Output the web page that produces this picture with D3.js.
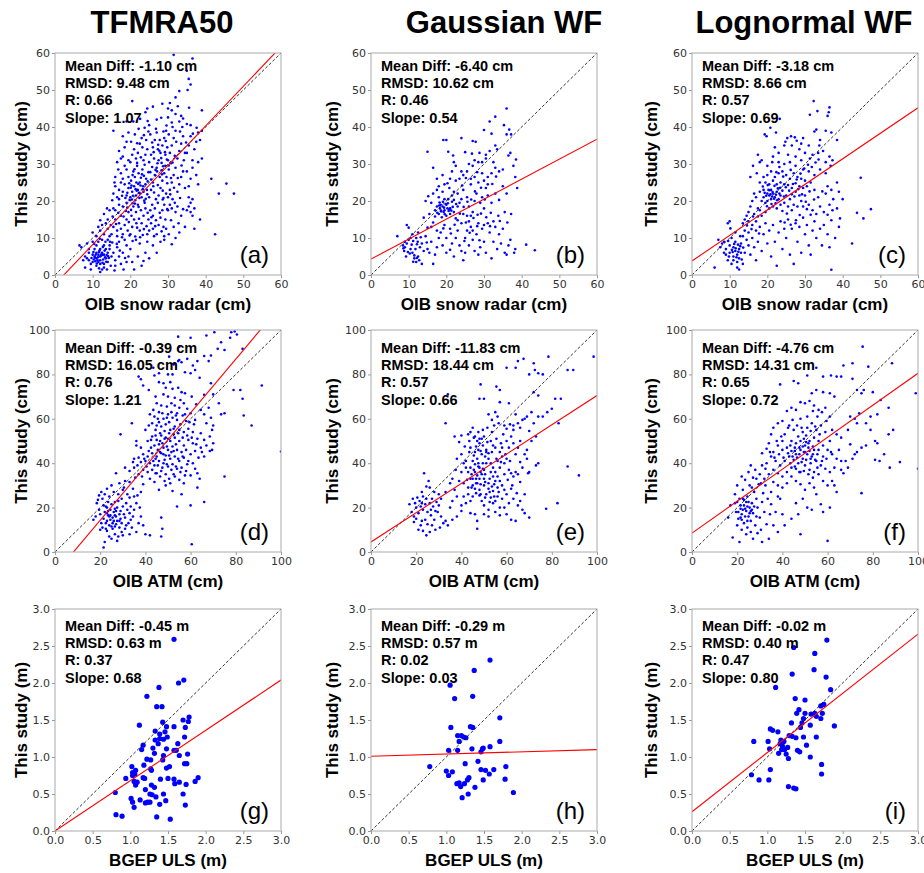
<!DOCTYPE html>
<html>
<head>
<meta charset="utf-8">
<script src="https://cdn.jsdelivr.net/npm/d3@7"></script>
<style>
  body { margin: 0; background: #fff; }
  text { font-family: "Liberation Sans", Arial, sans-serif; }
  .tick text { font-family: "DejaVu Sans", sans-serif; font-size: 11px; fill: #333; }
</style>
</head>
<body>
<script>
// column titles and per-row axis setup
var methods = ["TFMRA50", "Gaussian WF", "Lognormal WF"];
var letters = ["(a)", "(b)", "(c)", "(d)", "(e)", "(f)", "(g)", "(h)", "(i)"];
var xLabels = ["OIB snow radar (cm)", "OIB ATM (cm)", "BGEP ULS (m)"];
var yLabels = ["This study (cm)", "This study (cm)", "This study (m)"];
var axisMax = [60, 100, 3];
var ticks = [[0, 10, 20, 30, 40, 50, 60], [0, 20, 40, 60, 80, 100], [0, 0.5, 1.0, 1.5, 2.0, 2.5, 3.0]];

// statistics shown in each panel
var meanDiff = ["-1.10 cm", "-6.40 cm", "-3.18 cm", "-0.39 cm", "-11.83 cm", "-4.76 cm", "-0.45 m", "-0.29 m", "-0.02 m"];
var rmsd = ["9.48 cm", "10.62 cm", "8.66 cm", "16.05 cm", "18.44 cm", "14.31 cm", "0.63 m", "0.57 m", "0.40 m"];
var rVals = ["0.66", "0.46", "0.57", "0.76", "0.57", "0.65", "0.37", "0.02", "0.47"];
var slopes = [1.07, 0.54, 0.69, 1.21, 0.66, 0.72, 0.68, 0.03, 0.80];
var intercepts = [-2.5, 4.3, 3.8, -9.9, 4.5, 8.5, 0.0, 1.01, 0.26];

// scatter points, x,y pairs
var ptsA = [6.5,8, 7,7.5, 8,5, 8.5,4.5, 9,4, 9,6, 8,2, 9.5,3, 9,7, 7.5,4, 8.5,8.5, 9.5,1.5, 10,5.5, 10,3.5, 10,9,
  10.5,5, 11,4.5, 11,6, 11.5,3.5, 12,5, 12,4, 12.5,6, 12,7, 11,2.5, 13,3, 13,5.5, 13.5,4.5, 14,6, 14,3.5, 14.5,8, 12.5,1.5, 12,0.8, 13,2, 11,8, 10.5,7, 11.5,9, 12.5,9.5, 13,8, 14,9.5, 14.5,7, 15,5, 13.5,7, 12,3, 11.5,5.5, 10.7,3.7, 11.8,6.6, 12.8,4.2, 13.7,5.4, 14.3,4.6, 10.3,4.2, 11.3,4, 12.3,5.6, 13.2,6.6, 14.8,2.5, 13.8,1.5, 11.7,1.8, 10.8,5.5, 12.7,7.6, 14.6,9, 13.4,9, 11.9,9.8, 10.4,8.4, 10.2,6.2,
  15.5,6, 16,4, 16.5,7.5, 17,9, 17.5,3, 18,6, 19,8, 19.5,5, 16,2.5, 18.5,9.5, 15.2,8.8, 17,5, 19,3.5, 15.8,1.2, 18.2,1.5,
  21,1.5, 23,2.5, 20.5,3.5, 22,5, 24,6, 25,4.5, 26,8, 27,6, 28,9, 29,9.5, 22.5,8.5, 21.5,9.5, 24.5,9, 20,7, 23.5,3.8, 31,8.3, 32,10,
  11,10.5, 12,12, 13,11, 13.5,14, 14,12.5, 14.5,10.5, 12.5,13.5, 14,15, 13,16.5, 14.5,17.5, 11.5,13, 10,11.5, 12,14.8, 14.8,13.5, 13.8,18,
  15,11, 15.5,13, 16,15, 16.5,12, 17,14, 17.5,16, 18,11, 18.5,13.5, 19,15, 19.5,17, 16,17.5, 17,19, 18,18.5, 19,19.5, 15.5,18, 16.5,10.5, 17.5,12.5, 18.2,15.8, 19.3,12, 19.8,10.7, 15.3,15.8, 16.8,16.8, 18.8,17.3, 17.8,10.2, 16.2,13.8, 19.6,14.3,
  20,11, 20.5,13, 21,15, 21.5,17, 22,19, 22.5,12, 23,14, 23.5,16, 24,18, 24.5,11, 20.8,18.5, 21.8,12.8, 22.8,17.5, 23.8,19.5, 24.8,15, 20.3,16, 21.3,10.4, 22.3,15.2, 23.3,10.8, 24.3,13.2, 20.6,19.4, 21.6,14, 22.6,10.2, 23.6,12.4, 24.6,16.8,
  25,12, 25.5,14, 26,16, 26.5,18, 27,11, 27.5,13.5, 28,15.5, 28.5,17.5, 29,19, 29.5,12.5, 25.3,17.5, 26.3,10.5, 27.3,19.5, 28.3,11.8, 29.3,15, 25.8,19, 26.8,14.8, 27.8,16.8, 28.8,13, 29.8,17.8, 26,12.5, 29,10.5,
  30,17.5, 30.5,19, 31,18, 31.5,13, 32,17, 32.5,18.5, 33,11.5, 33.5,16, 30.2,11, 34,17.8, 31.8,19.5, 34.5,13, 30.8,14.8, 32.8,14,
  35,17.5, 35.5,18.5, 36,17, 36.5,16, 37,18, 37,12.5, 38,24.5, 38.5,15, 36,19.5, 35.5,21, 36.5,20.5,
  41.5,26, 45.5,24.7, 47.5,22, 43.5,22, 42.5,11,
  15.5,22, 16,24, 16.5,21, 17,23, 17.5,25, 18,22.5, 18.5,24.5, 19,21.5, 19.5,23.5, 17.5,27.5, 18,26, 19,28.5, 16,26.5, 18.5,29.5, 19.5,26.5, 17,20.5, 19.8,20.3, 15.2,20.2, 16.8,28.5, 15.8,25,
  20,21, 20.5,22.5, 21,24, 21.5,21.5, 22,23, 22.5,25, 23,21, 23.5,22.5, 24,24.5, 24.5,21.8, 20.2,25.5, 21.2,26.5, 22.2,27.5, 23.2,28.5, 24.2,26, 20.8,28, 21.8,29.5, 22.8,26.3, 23.8,29.8, 24.8,27.8, 20.4,20.4, 21.4,23.2, 22.4,20.8, 23.4,24, 24.4,23, 20.6,27, 21.6,25, 22.6,22, 23.6,26.8, 24.6,25.3, 20.1,23.6, 22.1,24.6, 24.1,20.6, 21.1,28.6, 23.1,27.2,
  25,21, 25.5,23, 26,25, 26.5,27, 27,29, 27.5,21.5, 28,23.5, 28.5,25.5, 29,27.5, 29.5,22, 25.3,27.8, 26.3,22.3, 27.3,24.3, 28.3,28.3, 29.3,29.5, 25.8,29.2, 26.8,20.5, 27.8,26.5, 28.8,20.8, 29.8,24.8, 25.5,25.8, 26.1,24, 28.6,22.8, 27.1,28, 29.6,26.5,
  30,21, 30.5,23, 31,25, 31.5,27, 32,29, 32.5,22.5, 33,24.5, 33.5,26.5, 30.2,28.5, 34,28, 34.5,23.5, 31.2,20.5, 33.2,20.8, 30.8,26.2,
  35,28, 36,26, 37.5,27, 38,30.5, 35.5,24, 36.5,29, 39,31.5,
  15.5,39, 17,33.5, 17.5,31.5, 18,32, 18.5,34.5, 19,36, 19.5,31, 16.5,30.5, 18,37.5, 19.5,38.5,
  20,30.5, 20.5,32.5, 21,34, 21.5,31.5, 22,33, 22.5,35.5, 23,37, 23.5,31, 24,32.5, 24.5,34, 20.2,36, 21.2,38, 22.2,39.5, 23.2,34.5, 24.2,36.5, 20.8,41.5, 24.8,38.8, 21.8,30.3, 23.8,39.8, 22.8,31.8, 19,41.5,
  25,30.5, 25.5,32.5, 26,34.5, 26.5,36.5, 27,38.5, 27.5,31, 28,33, 28.5,35, 29,37, 29.5,39, 25.3,38, 26.3,31.5, 27.3,34, 28.3,30.3, 29.3,32.5, 25.8,35.8, 26.8,39.5, 27.8,36.5, 28.8,38.8, 29.8,34.5, 28.2,42.5, 27,42, 26,45.5,
  30,31, 30.5,33, 31,35, 31.5,37, 32,39, 32.5,31.5, 33,33.5, 33.5,35.5, 34,37.5, 34.5,33, 30.2,38, 31.2,40, 32.2,36, 33.2,38.8, 34.2,31, 30.8,30.2, 31.8,32.2, 33.8,40,
  35,33, 35.5,35, 36,37.5, 36.5,31, 37,34, 37.5,36, 38,38.5, 38.5,36.5, 39,39, 36,40.5, 34.8,35.8,
  31.5,59.5, 36.5,58.5, 35,55.2, 35.5,53, 36,51.5, 35.2,50, 33,49.7, 32,48, 30.5,46.5, 28.5,46.3, 20.5,47, 24.5,45, 24,44, 30,45, 31,44.5, 33.5,43, 32,43.5, 34,42.3, 39,44.5, 25,40.5, 33,41.5, 30,42.6, 31,41.2, 35,40.8,
  19.2,22.2, 20.3,24.2, 21.3,20.2, 22.3,22.2, 23.3,23.2, 20.7,21.4, 21.7,22.8, 22.7,24.2, 19.7,24.8, 18.7,20.8, 23.7,20.1, 21.2,19.3, 22.2,18.4, 20.2,17.6, 19.2,18.2, 17.8,21.4, 27.2,30.2, 28.2,31.6, 29.2,33.2, 28.7,29.4, 27.7,33.6, 29.7,31.2, 26.7,28.4, 30.2,29.6, 31.2,30.4, 29.4,36.2, 27.4,35.2, 26.2,33.2, 28.4,27.2, 12.2,5.2, 11.4,4.8, 12.8,5.4, 13.3,4.8, 11.7,6.2, 10.6,4.7, 13.6,3.6, 12.6,3.3, 9.7,4.6, 11.1,3.1, 14.1,5.1, 16.4,8.4, 17.2,6.6, 18.6,4.6, 20.6,9.2, 25.6,15.6, 26.6,13.2, 28.6,20.4, 30.6,21.8, 31.6,23.6, 32.6,26.2, 33.6,29.6, 21.8,35.6, 23.6,37.8, 24.6,41.6, 22.6,42.2, 29.6,40.4, 32.6,45.6, 35.6,45.2, 36.6,38.2, 37.6,39.8];

var ptsB = [36,45, 33,42.8, 31.5,41.5, 35.3,40.5, 30,39.2, 36.7,39.3, 37.2,38, 36,38, 32,38.2, 24,37, 19.2,36.5, 20,36.5, 27,36.2, 27.8,36, 20.5,33.3, 15,33.3, 33,35, 31.5,33.5, 30.5,32.5, 29.5,30.5, 30.5,31.5, 33.5,34, 37,33, 38.5,31.2, 36.5,32.3, 37.8,29.5, 38.3,26.5, 38.8,23.5, 35,28.5, 34,28, 33,29, 32.5,30.5, 32,27.5, 31,26.5, 30,25.5, 29.5,27.5, 28.5,30.5, 27.5,31, 27,29.5, 26,30, 25.5,28, 26.5,26, 27.5,26.5, 28.5,25, 24,28, 23.5,26, 24.5,27, 22.5,29.5, 21.5,28, 21,26, 22.5,25.5, 20.3,24.8, 19.5,24.5, 20.8,23.5, 18,24, 17.5,23, 16.5,29, 22,30.5, 21.8,32.3, 25,33.2, 26.8,32.8, 28.8,33, 17.5,26, 19,27,
  15.2,21.3, 16,19.5, 17,17.5, 17.5,18.5, 18,16.5, 18.5,19, 19,18.5, 19.5,17.5, 20,19, 20.5,20.5, 21,18, 21.5,21.5, 22,22.5, 18,21, 19,22.5, 20,16, 21,16.5, 22,17, 23,18.5, 24,20.5, 23,22, 24.5,23, 25.5,21, 26,18.5, 27,17, 27.5,20, 28,22, 29,19.5, 29.5,21, 30,18, 31,21.5, 32,19.5, 33,22, 34,20.3, 35,24, 36,22, 30.5,23.5, 26.5,24.5, 24.5,16.5, 25.5,16, 26.5,16, 22.5,15.3, 17,15.8, 15.5,16.5, 14,15.5, 14.5,20, 16.5,22, 19.5,20.5, 21.5,19.8, 23.5,19.5, 18.8,15.6, 28.3,16.3, 31.8,16.8, 33.8,16, 35.5,17, 37.2,16.5, 31,24.5, 22,20.3,
  18.3,18, 19.3,17, 20.3,18, 18.6,17.2, 19.8,19.2, 20.6,17.3, 21.3,17.4, 18.2,19.6,
  7,10.5, 8.5,8, 9,7.5, 9.5,8.5, 8.8,6.5, 9.5,13.5, 10,12.8, 10,9.5, 10.5,7, 11,6, 11.5,4.5, 12,3.5, 11.5,5.3, 12.5,5, 12.8,4, 11.8,7, 12,10, 12.5,11.5, 11,11, 10.5,10, 9.3,5, 10.3,5.8, 13,7.5, 13.5,3, 13.5,8.5, 14,6.5, 14.5,10.5, 15,7, 15.5,6, 16,9, 16.5,3, 17,5.5, 17.5,12, 15,12.8, 16,13, 16.5,14.2, 17.5,7.5, 18,10, 18.5,11.5, 19,8, 19.5,13.5, 20,10, 20,6, 21,12.5, 21.5,8.5, 22,5, 22.5,10, 23,12, 23.5,8, 24,14, 24.5,4, 24,6.5, 25,10, 25.5,12, 26,8, 26.5,13, 27,9.5, 27.5,6.5, 28,11, 28.5,14, 29,7.5, 29.5,12.5, 30,9, 30.5,6, 31,14, 31.5,11.5, 32,4.5, 32.5,9, 33,13, 33.5,7, 34,11, 34.5,8.5, 35,12.5, 35.5,6, 36,5.5, 36.5,8, 37,9.5, 38,6, 38.3,7, 41.2,8.2, 43.5,6.7, 26,14.5, 23,14.8, 27,12, 30,13.5, 32.5,14.5, 25,6, 28.5,5.5, 21,6.8,
  9,9, 8.6,7.2, 10.8,8.2, 11.2,3.6, 12.2,4.6, 9.8,6.2, 12.4,9,
  18.6,17.4, 19.4,18.2, 20.4,19.4, 19.1,19.8, 18.1,18.8, 20.8,17.8, 21.7,18.4, 17.6,16.8, 22.6,19.2, 19.6,16.4, 23.6,16.6, 24.6,18.4, 25.6,19.8, 26.6,20.4, 27.6,22.6, 24.2,24.2, 25.2,26.2, 28.2,27.8, 29.2,23.6, 30.2,20.4, 32.2,24.6, 33.2,26.6, 26.2,11.4, 27.2,15.4, 28.2,13.2, 29.2,16.6, 25.2,14.2, 22.2,13.6, 21.2,11.2, 19.2,12.6, 30.6,15.6, 31.6,13.2, 34.2,14.6, 36.2,14.2, 28.8,9.4, 24.8,9.2, 12.2,8.3, 13.2,10.2, 11.2,9.2, 14.8,8.8];

var ptsC = [32.3,47, 36.5,45.3, 36.3,44, 33.3,44.3, 36,43, 31.3,43.3, 23.3,42.2, 20.8,39.8, 22.3,38.5, 19.8,37.5, 19.3,38, 25.3,37, 26.3,37.5, 27.3,37.2, 24.8,36, 27.8,36.3, 29.5,37, 32.5,38.8, 33,39.3, 34,36.5, 35.5,39, 37,38.5, 38.5,36.5, 33.8,35, 31,35, 29,35.5, 28.5,34, 26.5,35, 24.5,35, 22,34.5, 30,33, 32,32.5, 33.5,33, 34.8,33.5, 36.5,32, 35.5,30.5, 36.8,29.5, 37.3,31, 31.3,31.5, 29,31, 27.5,32, 25.5,32.5, 23,33, 21.5,32, 17.5,32.5, 18.5,31, 18,30.5, 20,29.5, 21.3,30.5, 23,30.5, 24.5,30, 26,30.5, 27.5,29.5, 29.5,28.5, 31,28, 16.2,29.5, 15.5,26.5, 17.2,27.5, 32.5,27, 34,28.5, 35.5,27.5, 38.5,25, 39,22.5, 40,20.5,
  19,26.5, 20,27, 21,28, 22,26.5, 23,27.5, 24,28, 25,27, 26,26, 27,27.5, 28,26.5, 29,26, 30,25.5, 18,25, 19.5,25, 20.5,24.5, 21.5,25.5, 22.5,24.5, 23.5,25, 24.5,24.5, 25.5,24.3, 26.5,23.5, 27.5,24.8, 28.5,24, 29.5,23.5, 30.5,24, 31.5,25, 18,22.5, 19,23, 20,22, 20.5,21.5, 21,23, 21.5,22, 22,21, 22.5,22.5, 23,20.5, 23.5,21.5, 24,22.8, 21,20.5, 20,20, 19.5,19.5, 19,21, 18.5,20, 17,21, 16.5,22, 16,20, 15.5,18.5, 17.5,18, 18,17.5, 16.5,16.5, 15,17, 14.5,16, 14,15, 13.5,14, 15,14.5, 16,13.5, 17,14.5, 17.5,15.8, 18.5,16, 19.5,17, 20.5,18, 21.5,18.5, 22.5,18, 23.5,19, 24.5,19.5, 25.5,18.5, 26,20.5, 27,19, 28,18.5, 29,20, 30,21.5, 31,19, 32,17.5, 33,16.5, 31.5,16.3, 30.5,17.8, 29.5,18.5, 26.5,17.5, 25,21.5, 26.5,21.8, 27.5,22.5, 28.5,21.5, 24,17.3, 34,18.5, 35,17, 36,16.3, 37.3,17.5, 36.5,19, 37.5,20.5, 38.5,18, 35.5,22, 33.5,21, 32.5,23, 36,24, 37,23, 43.8,16.8, 45.5,15.3, 47.5,17.8, 44.8,26.3, 42.5,8.5, 39.3,15.3, 39,13, 37,1.4,
  20.8,21.8, 21.8,20.6, 22.3,21.7, 20.3,23, 21.3,21.2, 22.8,23.4, 19.7,21.4, 23.2,22,
  6,2, 7,9.5, 7.5,7.5, 8,8.5, 8.5,6, 8.5,9, 9,5.5, 9,7, 9.5,4, 9.5,14, 10,14.5, 10,8, 10,6, 10.5,3, 10.5,10, 11,7.5, 11,5, 11,4, 11.5,9, 11.5,6.5, 12,5.5, 12,3.5, 12,2, 12.5,7, 12.5,1.5, 12.5,4.5, 13,6, 13,8.5, 13.5,10.5, 13.5,3, 14,12, 14,6, 14.5,9.5, 15,8, 15,11.5, 15.5,5.5, 16,10, 16.5,7.5, 17,12, 17,4, 17.5,9, 18,13, 18.5,6.5, 19,11, 19.5,14, 20,8.5, 20.5,12, 21,5, 21.5,13.5, 22,9, 22.5,2.5, 23,11.5, 23.5,14.5, 24,7, 24.5,12.5, 25,10, 25.5,15, 26,5.5, 26.5,12.5, 27,3, 27.5,14, 28,9, 28.5,13, 29,6, 29.5,15.5, 30,11, 30.5,13.5, 31,8, 31.5,5.5, 32,12, 32.5,14.5, 33,10, 34,12.5, 35,13.5, 36,11, 36.5,7.5, 37,14.8, 38,10, 34.5,8, 11.5,11.5, 10.2,12.6, 12.8,10.5,
  10.8,6.2, 11.8,4.8, 12.3,6.3, 9.8,5, 11.2,8.4, 13.2,4.2,
  21.4,22.4, 20.6,22.9, 22.6,20.2, 23.4,23.6, 21.9,24.1, 20.1,24.3, 19.3,22.2, 18.8,23.9, 24.4,21.2, 24.9,23.7, 22.2,19.4, 21.1,19.2, 19.9,18.6, 25.8,22.8, 26.8,24.6, 27.8,25.8, 28.8,27.4, 29.8,28.8, 30.8,29.8, 31.8,29.2, 32.8,30.4, 33.6,31.2, 26.2,28.4, 24.2,26.6, 23.2,29.2, 22.4,27.8, 27.2,21.2, 28.2,23.2, 29.2,21.8, 31.2,22.6, 30.2,19.8, 32.4,20.4, 34.6,22.6, 28.6,16.2, 27.6,14.8, 25.2,16.6, 26.2,13.6, 24.6,14.2, 12.2,8.2, 11.6,7.2, 10.6,6.8, 12.8,7.8, 9.6,9.2, 13.6,7.4, 14.6,13.4, 16.2,15.8, 15.8,12.4, 17.8,11.2];

var ptsD = [70.5,99, 78,99, 79.5,99.3, 80.5,98, 77.5,96.5, 67,97.5, 54.5,97, 60,96.5, 55,92.5, 73.5,94.5, 83,91.5, 72,91.5, 75,91, 66,88.3, 69,88.5, 58.5,87, 55,86.5, 56,85.5, 54.5,86, 50.5,88, 52.5,84.5, 63,86, 61,84, 68,86, 62,82, 57.5,81, 60,80.5, 46,80.5, 50,80, 52,80, 44,79.5, 37,79, 39,75, 38,77.8, 51,76.5, 48,76, 49,74, 52,73.5, 54.5,74, 56,72, 57.5,71.5, 60.5,70, 66,70.8, 70,71, 72.5,67, 73.5,62, 75,62.5, 79,73, 82,73, 91.5,75, 83,69, 83.5,61.5, 87,57, 100,45.3, 75,34, 69,76, 64,78.5, 41.5,73, 44.5,70, 45,67, 47,66, 49.5,65.5, 51.5,67, 53,66, 55,65, 57,67, 62.5,66.5, 64.5,64, 68,65, 66,62, 69,60.5, 67,58, 70,57, 69.5,55, 68.5,52, 70,49, 69.5,46, 68.5,45.5, 67,48, 66,50.5, 64.5,53.5, 65,45, 63.5,42.5, 66,43,
  60,62.5, 58,59, 56.5,61.5, 54,62.5, 52,60.5, 50,62, 48,60, 46,63, 44,61, 43,58, 45,57, 47,56.5, 49,57.5, 51,55, 53,56.5, 55,55, 57,54, 59,55.5, 61,54, 63,51, 61,49, 59,50.5, 57,48, 55,50, 53,51.5, 51,50, 49,51.5, 47,52.5, 45,50.5, 43,52, 41,50, 44,48, 46,48.5, 48,47, 50,46, 52,47.5, 54,46, 56,45, 58,46, 60,44, 62,45.5, 61,40, 59,41, 57,42.5, 55,41, 53,43, 51,42, 49,43.5, 47,44.5, 45,43, 43,44.5, 41,43, 39,44, 37,42.5, 35,42, 38,40.5, 40,41, 42,40, 44,39, 46,41, 48,40, 50,38.5, 52,39.5, 54,37.5, 56,38, 58,36.5, 60,34.5, 62,37.5, 64,33, 63,29, 55,32.5, 53,34, 51,31, 49,35, 47,36.5, 45,35.5, 43,37, 41,36, 39,37, 37,35, 35,38, 33,36.5, 31,38, 35.5,33.5, 33,31.5, 34.5,28.5, 31,32, 30.5,29, 27,35.5, 29,53, 34,58, 36,50, 38,47, 36,48, 40,55, 42,62, 46,76.5, 43.5,83, 56,26, 54,20.5, 57,31, 60,21, 66,22.5, 63,35.5, 47,15.5, 47.5,10.5, 47,7, 42,7.5, 60.5,3.5, 52,27.5, 49,30, 46,28, 44,31.5, 42,33, 39,30.5, 38,27, 36.5,25.5, 33,24.5,
  45.5,46, 47.5,49, 49.5,47.5, 51.5,45, 46.5,53.5, 48.5,54.5, 50.5,58.5, 52.5,53, 44.5,55, 42.5,47, 50,51, 48,44, 54,59.5, 53.5,48.5, 46,58.5,
  17,14.5, 18,16, 18.5,22, 19,23.5, 19.5,19, 20,17, 20.5,13, 21,11, 21.5,15, 22,18, 22.5,20.5, 23,9.5, 23,14, 23.5,16.5, 24,12, 24.5,19, 25,21.5, 25.5,10.5, 26,14, 26,18, 26.5,8, 27,12.5, 27,16, 27.5,20, 28,23, 28.5,11, 29,15, 29,18.5, 29.5,13, 30,20.5, 30.5,17, 31,10.5, 31,15.5, 31.5,22, 32,19, 32.5,13, 33,17.5, 33.5,20.5, 34,11, 34.5,16, 35,19, 30,7.5, 28,7, 25,6, 22,4.5, 21.5,2, 24,7, 27.5,5, 33,8, 36,9, 37,13, 38,16, 39,12, 40,8, 37.5,20, 36,22, 35,25, 32,26, 30,28, 28,26, 26,27, 24,25, 22,26, 23,28.5, 21,24, 20.5,27, 19.5,25.5, 28.5,31, 25,30, 23.5,22.5, 21.5,21, 26.5,22.5, 29.5,24, 22.5,10.5, 24.5,14.5, 26.5,16.5, 20,10, 25,11.5, 33.5,14.5, 31.5,12, 29.5,9,
  22.5,13, 23.5,18.5, 24.5,16.5, 25.5,13, 26.5,19.5, 27.5,14, 28.5,17, 23,20,
  44.5,42, 46.5,45, 48.5,41.5, 50.5,43.5, 52.5,45.5, 45.5,39, 47.5,38, 49.5,39.5, 51.5,37, 43.5,41, 41.5,45.5, 39.5,42, 42.5,50.5, 44.5,52.5, 46.5,50, 48.5,51, 50.5,53.5, 52.5,55.5, 54.5,53.5, 56.5,51.5, 55.5,57.5, 53.5,61.5, 51.5,63, 49.5,60.5, 47.5,62.5, 45.5,60, 43.5,64, 41.5,57, 57.5,62, 59.5,58.5, 61.5,57.5, 58.5,52.5, 60.5,51.5, 62.5,48.5, 64.5,47, 56.5,43, 54.5,42, 58.5,39.5, 57.5,34.5, 55.5,36, 53.5,38.5, 52.5,35, 50.5,33, 48.5,32, 46.5,34, 44.5,35.5, 40.5,38.5, 38.5,34, 36.5,39, 34.5,40.5, 50,70, 53,69.5, 48,71, 55.5,68.5, 58.5,64.5, 62,59.5, 26.5,11.5, 24,16, 27,18.5, 23,17.5, 25.5,15.5, 28.5,14];

var ptsE = [98.5,88, 78.5,88, 67.5,87, 65,86, 72,85, 60,83, 64,83, 72.5,82, 74,80.5, 76,80, 87,82, 89.5,82, 70,80, 48.5,75.5, 55.5,74.5, 57,73, 72,72, 74,70.5, 81.5,69, 84,69, 48,69, 50,69, 57,67.5, 61,67, 52,62, 55,63, 56,61, 53.5,59.5, 59,57, 60,55.5, 61.5,57.5, 63,57, 64,62, 65,58, 66,56, 67,59.5, 68,60, 69,61, 71,63, 72,58, 74,61, 76,61, 78,63, 80,64.5, 83,58, 70,54.5, 73,52, 71,50, 68,44, 69,42, 66,40.5, 70,36, 69.5,35.5, 74,40, 73,39, 87,38.5, 92,34.5, 82.5,22, 77.5,19.5, 34,71, 33,58,
  39,49.5, 37,52, 40,52.5, 43,53, 44,54, 45,56, 46,52, 47,50, 48,49, 49,51, 50,52, 51,46, 52,44.5, 53,50, 54,48, 55,47, 57,45, 58,43, 59,40, 60,42, 61,37, 62,35.5, 63,34, 64,36, 65,35, 66,31.5, 62,28.5, 60,26, 58,24, 59,20, 60,17, 62,14.5, 64,14, 65,21, 67,19, 68,17.5, 70,15.5, 61,22, 56,25, 54,22, 55,18, 57,16.5, 52,19, 50,21, 48,25.5, 46,17, 44,17.5, 47,10.5, 43,26, 41,25, 40,21, 38,16, 36,14.5, 34,12, 33,14, 32,13, 37,28, 36,33, 37.5,37, 38,42, 40,44, 41,40, 42,38, 43,36, 44,33, 45,30, 46,28.5, 47,31, 48,33, 49,35, 50,37, 51,40, 52,42, 53,40, 54,38, 55,36, 56,34, 57,32, 58,30, 59,28, 56,29, 54,27.5, 52,28.5, 50,30, 48,28, 46,36, 44,38, 42,41, 40,36, 39,32, 41,31, 43,29, 45,41, 47,42, 49,44, 51,45, 53,36, 55,32, 57,38, 59,35, 61,47, 63,49, 65,47, 66,50, 64,44, 67,38, 69,46, 46,45, 44,47, 48,38, 50,33, 52,31, 54,34, 56,41, 58,47, 60,50, 62,52, 63,55, 44,23, 42,22, 40,18.5, 35,20, 36,23, 38,25, 30,26, 31,24, 33,27, 35,31, 45,25, 49,23, 51,26, 53,24.5, 55,23, 50,17, 52,16, 47,14, 57,20, 63,24, 66,23, 68,26,
  45.5,37, 46.5,33, 47.5,38.5, 48.5,36, 49.5,40, 46,39.5, 47,34.5, 50.5,35, 52.5,27, 53.5,29.5, 45,33, 48,51, 47.5,46, 49.5,48,
  17,21.5, 18,18, 18.5,24, 19,16, 19.5,22, 20,20, 20.5,24.5, 21,17.5, 21.5,23, 22,20.5, 22.5,14, 23,19, 23.5,35.5, 23,25, 24,21.5, 24.5,29.5, 25,18, 25.5,32, 25,12.5, 26,22, 26,9, 24.5,7.5, 23,9.5, 27,24, 27.5,20.5, 28,14.5, 28.5,10, 29,22.5, 29.5,18, 28,27, 30,21, 30.5,11, 31,16, 27,12, 26.5,16.5, 24,14.5, 22,12, 21,10, 19,13.5, 20,15, 22.5,27, 26,29,
  44.5,35, 46.5,31, 48.5,30.5, 50.5,31.5, 52.5,33, 54.5,30.5, 56.5,27, 44.5,29, 42.5,32.5, 46.5,26.5, 48.5,26, 50.5,24.5, 52.5,22.5, 54.5,25, 46.5,47.5, 48.5,45.5, 50.5,43, 47.5,40, 49.5,37.5, 45.5,43.5, 43.5,45, 41.5,47.5, 43.5,50, 45.5,51.5, 47.5,54, 49.5,55, 51.5,56, 53.5,54, 55.5,51, 57.5,49, 58.5,53, 56.5,58, 54.5,57, 51.5,49.5, 53.5,45, 55.5,42, 57.5,40.5, 59.5,44, 61.5,41, 60.5,32.5, 62.5,30, 64.5,26.5, 26.5,19, 22.5,22, 24.5,24, 28.5,18.5];

var ptsF = [75.5,92.5, 88.5,85, 71,85, 67,84, 78,83.5, 55,83, 51,79.5, 58,79, 61.5,79.5, 64,79, 66,79, 71,78, 39,75.5, 45,77, 47,76, 53,71.5, 55,73, 58,72, 61,71.5, 63,70, 73,73, 75,71.5, 76,73, 80,72, 99,71.5, 83.5,68.5, 87,65, 82,62, 79,61, 74,62.5, 70,61, 72,60, 69,55, 73,58, 77,58, 79,55, 89,55, 81,50, 87,53, 82,49, 85,44, 92,40.5, 87.5,38, 81,41.5, 83,41, 77,48, 75,47, 72,44, 71,42, 68,41, 67,35.5, 66,41, 75,26.5, 100,37.5, 60,5, 48,8,
  73,45, 70,48.5, 64,53, 66,51.5, 62,55, 61,61, 59,65, 56,64, 54,66, 52,68, 50,67, 48,67.5, 46,64, 44,65, 42,63.5, 40,59, 38,58, 36,56, 35,53, 34,49, 38,48, 40,46, 42,47, 44,45.5, 46,44, 48,46, 50,48, 52,50, 54,51.5, 56,50, 58,48, 60,46, 62,44, 64,42, 63,38, 61,36, 59,37.5, 57,39, 55,41, 53,43, 51,44, 49,42, 47,40, 45,41.5, 43,43, 41,41, 39,39, 37,41, 35,43, 33,40, 31,39, 30,35, 32,33, 34,35, 36,37, 38,35.5, 40,34, 42,36, 44,38, 46,37.5, 48,36, 50,39, 52,37, 54,36, 56,35, 58,32, 60,30, 62,32, 64,27, 61,20, 58,18, 57,21.5, 55,26, 54,29, 52,31, 50,28, 48,30.5, 46,32, 44,34, 42,31, 40,29, 38,30, 36,31.5, 35,27, 46,22, 49,24, 51,20, 53,19, 47,17, 44,15, 41,12, 40,17, 38,25, 51,56, 53,58, 55,55, 57,57, 59,54, 61,50, 47,52, 45,55, 43,57, 41,53, 49,54, 51,61, 48,60, 46,49, 50,45, 52,45.5, 54,46, 56,46, 58,43, 48,50, 44,50, 40,50, 36,45, 33,46.5, 31,44.5, 66,37, 63,30, 69,38, 65,46,
  49,47.5, 50.5,49.5, 51.5,47, 47.5,44, 45.5,47, 52.5,42, 53.5,47.5, 49.5,51, 43.5,48, 55.5,44,
  16,15.5, 17,21, 18,6.5, 19,26, 19.5,18, 20,22.5, 20.5,15, 21,24, 21.5,19.5, 22,17, 22.5,28, 23,13, 23,21, 23.5,32.5, 24,18.5, 24.5,11, 24.5,25, 25,16, 25.5,20, 25.5,30, 26,9, 26,14, 26.5,22, 27,17.5, 27.5,27, 28,12, 28.5,24, 29,20, 29.5,30.5, 30,15.5, 30.5,10, 31,22.5, 31.5,26.5, 32,18, 32.5,30, 33,12.5, 33.5,24, 34,6, 34.5,17, 35,21.5, 36,12, 37,18, 38,9, 39,24, 21,4.5, 22,10, 20,12, 24,8, 27,6, 29,8.5, 31,4.5, 22,34, 20,30, 25,36, 28,37, 27,33.5, 26,39,
  22.5,19, 23.5,16, 24.5,20.5, 25.5,17.5, 23,23.5, 26.5,19, 21.5,15.5,
  45.5,45.5, 47.5,47, 49.5,45, 51.5,49, 53.5,44, 46.5,42.5, 48.5,40.5, 50.5,41.5, 52.5,40, 54.5,41.5, 44.5,43, 42.5,44.5, 40.5,42.5, 38.5,44, 36.5,42.5, 43.5,40, 45.5,38.5, 47.5,36, 49.5,36.5, 51.5,35, 53.5,33.5, 55.5,38, 57.5,41, 59.5,42, 61.5,45, 56.5,53, 54.5,56.5, 52.5,54.5, 50.5,52.5, 48.5,56, 46.5,57, 44.5,59.5, 42.5,56, 55.5,61, 57.5,63, 53.5,63.5, 59.5,59, 39.5,52, 37.5,50, 34.5,45, 32.5,37.5, 30.5,31, 28.5,33, 26.5,29, 24,22.5, 22.5,24, 21.5,21, 23.5,19.5, 25,22.5, 26,18.5, 27.5,20.5, 28.5,16, 24.5,14, 22,14.5, 20.5,18, 19,22];

var ptsG = [1.58,2.59, 1.71,2.04, 1.64,2.00, 1.38,1.94, 1.22,1.82, 1.35,1.68, 1.42,1.68, 1.78,1.54, 1.77,1.48, 1.70,1.50, 1.43,1.47, 1.12,1.43, 1.48,1.41, 1.58,1.41, 1.73,1.40, 1.33,1.35, 1.46,1.34, 1.39,1.31, 1.49,1.27, 1.72,1.27, 1.39,1.25, 1.33,1.23, 1.44,1.24, 1.17,1.16, 1.37,1.18, 1.63,1.18, 1.30,1.12, 1.15,1.10, 1.48,1.11, 1.58,1.09, 1.61,1.09, 1.32,1.05, 1.44,1.02, 1.65,1.02, 1.76,1.04, 1.22,0.97, 1.27,0.96, 1.43,0.96, 1.02,0.87, 1.18,0.89, 1.72,0.91, 1.75,0.91, 1.52,0.87, 1.48,0.85, 1.27,0.84, 1.07,0.82, 1.28,0.82, 1.03,0.79, 1.06,0.77, 1.03,0.75, 0.94,0.71, 1.17,0.72, 1.19,0.71, 1.40,0.70, 1.50,0.71, 1.58,0.70, 1.90,0.72, 1.86,0.67, 1.65,0.66, 1.59,0.64, 1.05,0.67, 1.09,0.66, 1.07,0.62, 1.28,0.62, 1.32,0.59, 1.74,0.63, 1.20,0.56, 0.80,0.52, 1.26,0.50, 1.29,0.49, 1.44,0.50, 1.70,0.50, 1.34,0.46, 1.01,0.44, 1.13,0.42, 1.47,0.41, 1.03,0.39, 1.20,0.38, 1.23,0.39, 1.26,0.39, 1.39,0.36, 1.73,0.35, 1.05,0.32, 0.81,0.22, 0.89,0.20, 1.35,0.19, 1.53,0.16];

var ptsH = [1.58,2.31, 1.37,2.17, 1.05,1.97, 1.35,1.82, 1.11,1.79, 1.71,1.53, 1.06,1.40, 1.32,1.41, 1.35,1.40, 1.15,1.29, 1.20,1.29, 1.23,1.27, 1.26,1.26, 1.17,1.21, 1.71,1.21, 1.58,1.14, 1.49,1.12, 1.48,1.11, 1.34,1.11, 1.03,1.09, 1.15,1.09, 1.46,1.07, 1.42,0.94, 1.25,0.91, 0.78,0.87, 1.79,0.87, 1.46,0.83, 1.52,0.82, 1.63,0.83, 1.00,0.81, 1.08,0.80, 1.03,0.75, 1.57,0.77, 1.30,0.72, 1.28,0.69, 1.49,0.69, 1.78,0.70, 1.24,0.64, 1.17,0.65, 1.14,0.64, 1.19,0.60, 1.38,0.59, 1.89,0.52, 1.29,0.50, 1.21,0.45];

var ptsI = [1.79,2.58, 1.35,2.48, 1.63,2.40, 1.62,2.18, 1.33,2.12, 1.78,2.08, 1.11,1.94, 1.84,1.91, 1.37,1.79, 1.50,1.77, 1.75,1.71, 1.71,1.69, 1.42,1.64, 1.39,1.59, 1.50,1.59, 1.58,1.58, 1.63,1.59, 1.73,1.59, 1.65,1.55, 1.71,1.52, 1.48,1.52, 1.32,1.46, 1.46,1.46, 1.57,1.43, 1.89,1.42, 1.44,1.40, 1.04,1.38, 1.07,1.36, 1.14,1.34, 0.82,1.21, 1.01,1.21, 1.18,1.23, 1.22,1.21, 1.29,1.29, 1.33,1.28, 1.38,1.26, 1.48,1.27, 1.65,1.27, 1.17,1.18, 1.20,1.15, 1.52,1.16, 1.03,1.11, 1.19,1.10, 1.23,1.10, 1.27,1.13, 1.40,1.09, 1.15,1.05, 1.43,1.07, 1.25,1.04, 1.57,1.00, 1.28,0.98, 1.72,0.90, 1.04,0.83, 0.79,0.76, 1.72,0.77, 0.89,0.69, 1.02,0.69, 1.28,0.60, 1.35,0.58, 1.38,0.57];

var allPts = [ptsA, ptsB, ptsC, ptsD, ptsE, ptsF, ptsG, ptsH, ptsI];

// layout
var colX = [55, 371, 692];
var rowY = [53, 330, 609];
var pw = 226, ph = 222;
var yLabelX = [27, 338, 657];
var statTop = [18, 23, 22];
var titleX = [162, 504, 804];

var svg = d3.select("body").append("svg")
    .attr("width", 924)
    .attr("height", 873);

// column titles
svg.selectAll(".title")
  .data(methods)
  .enter().append("text")
    .attr("class", "title")
    .attr("x", function(d, i) { return titleX[i]; })
    .attr("y", 33)
    .attr("text-anchor", "middle")
    .attr("font-size", 31)
    .attr("font-weight", "bold")
    .text(function(d) { return d; });

function toPairs(flat) {
  var out = [];
  for (var k = 0; k < flat.length; k += 2) out.push([flat[k], flat[k + 1]]);
  return out;
}

allPts.forEach(function(flat, i) {
  var r = Math.floor(i / 3), c = i % 3;
  var max = axisMax[r];
  var x = d3.scaleLinear().domain([0, max]).range([0, pw]);
  var y = d3.scaleLinear().domain([0, max]).range([ph, 0]);
  var fmt = r == 2 ? d3.format(".1f") : d3.format("d");

  var g = svg.append("g")
      .attr("transform", "translate(" + colX[c] + "," + rowY[r] + ")");

  g.append("clipPath").attr("id", "clip" + i)
    .append("rect").attr("width", pw).attr("height", ph);

  var plot = g.append("g").attr("clip-path", "url(#clip" + i + ")");

  plot.selectAll("circle")
    .data(toPairs(flat))
    .enter().append("circle")
      .attr("cx", function(d) { return x(d[0]); })
      .attr("cy", function(d) { return y(d[1]); })
      .attr("r", r == 2 ? 2.6 : 1.3)
      .attr("fill", "#0000ff");

  // 1:1 line
  plot.append("line")
    .attr("x1", x(0)).attr("y1", y(0))
    .attr("x2", x(max)).attr("y2", y(max))
    .attr("stroke", "#000")
    .attr("stroke-width", 0.8)
    .attr("stroke-dasharray", "3,2");

  // linear fit
  plot.append("line")
    .attr("x1", x(0)).attr("y1", y(intercepts[i]))
    .attr("x2", x(max)).attr("y2", y(intercepts[i] + slopes[i] * max))
    .attr("stroke", "#ff0000")
    .attr("stroke-width", 1.1);

  var xAxis = g.append("g")
      .attr("transform", "translate(0," + ph + ")")
      .call(d3.axisBottom(x).tickValues(ticks[r]).tickSize(3).tickPadding(2).tickFormat(fmt));
  var yAxis = g.append("g")
      .call(d3.axisLeft(y).tickValues(ticks[r]).tickSize(3).tickPadding(2).tickFormat(fmt));
  [xAxis, yAxis].forEach(function(a) {
    a.select(".domain").remove();
    a.selectAll(".tick line").attr("stroke", "#999");
  });

  g.append("rect")
    .attr("width", pw).attr("height", ph)
    .attr("fill", "none")
    .attr("stroke", "#aaa")
    .attr("stroke-width", 1);

  var stats = ["Mean Diff: " + meanDiff[i], "RMSD: " + rmsd[i], "R: " + rVals[i], "Slope: " + slopes[i].toFixed(2)];
  g.selectAll(".stat")
    .data(stats)
    .enter().append("text")
      .attr("class", "stat")
      .attr("x", 10)
      .attr("y", function(d, k) { return statTop[r] + k * 17.2; })
      .attr("font-size", 14.5)
      .attr("font-weight", "bold")
      .text(function(d) { return d; });

  g.append("text")
    .attr("x", pw - 12)
    .attr("y", ph - 12)
    .attr("text-anchor", "end")
    .attr("font-size", 24)
    .text(letters[i]);

  g.append("text")
    .attr("x", pw / 2)
    .attr("y", ph + 35)
    .attr("text-anchor", "middle")
    .attr("font-size", 17)
    .attr("font-weight", "bold")
    .text(xLabels[r]);

  svg.append("text")
    .attr("transform", "translate(" + yLabelX[c] + "," + (rowY[r] + ph / 2) + ") rotate(-90)")
    .attr("text-anchor", "middle")
    .attr("font-size", 17)
    .attr("font-weight", "bold")
    .text(yLabels[r]);
});
</script>
</body>
</html>
